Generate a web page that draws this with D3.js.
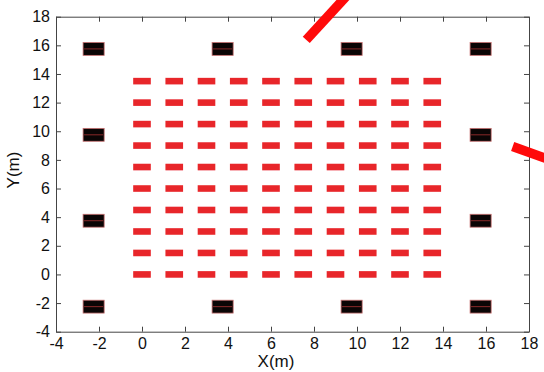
<!DOCTYPE html>
<html>
<head>
<meta charset="utf-8">
<script src="https://cdn.jsdelivr.net/npm/d3@7"></script>
<style>
  html, body { margin: 0; padding: 0; background: #fff; }
  svg { display: block; }
  .axis text { font-family: "Liberation Sans", Arial, sans-serif; font-size: 16px; fill: #111; }
  .axis path, .axis line { stroke: #444; }
  .label { font-family: "Liberation Sans", Arial, sans-serif; font-size: 17px; fill: #111; }
</style>
</head>
<body>
<div id="chart"></div>
<script>
// tick values (m)
const xTicks = [-4, -2, 0, 2, 4, 6, 8, 10, 12, 14, 16, 18];
const yTicks = [-4, -2, 0, 2, 4, 6, 8, 10, 12, 14, 16, 18];

// red grid of targets: column / row positions (m)
const gridX = [0, 1.5, 3, 4.5, 6, 7.5, 9, 10.5, 12, 13.5];
const gridY = [0, 1.5, 3, 4.5, 6, 7.5, 9, 10.5, 12, 13.5];

// black anchors round the area (m)
const anchorX = [-2.25, 3.75, 9.75, 15.75, -2.25, 15.75, -2.25, 15.75, -2.25, 3.75, 9.75, 15.75];
const anchorY = [15.75, 15.75, 15.75, 15.75, 9.75, 9.75, 3.75, 3.75, -2.25, -2.25, -2.25, -2.25];

// thick red segments (start/end, m)
const armX1 = [7.64, 17.24];
const armY1 = [16.38, 8.93];
const armX2 = [9.81, 19.38];
const armY2 = [19.93, 7.78];

const width = 544;
const height = 372;
const margin = {top: 16.7, right: 15, bottom: 40.3, left: 56};

const x = d3.scaleLinear().domain([-4, 18]).range([margin.left, width - margin.right]);
const y = d3.scaleLinear().domain([-4, 18]).range([height - margin.bottom, margin.top]);

const svg = d3.select('#chart')
  .append('svg')
    .attr('width', width)
    .attr('height', height);

const defs = svg.append('defs');
defs.append('filter')
    .attr('id', 'soft')
    .attr('x', '-20%').attr('y', '-50%')
    .attr('width', '140%').attr('height', '200%')
  .append('feGaussianBlur')
    .attr('stdDeviation', 0.6);

// axes, ticks pointing inward on all four sides
const tick = 5;
const fmt = d => String(d); // plain hyphen minus like the original
svg.append('g')
    .attr('class', 'axis')
    .attr('transform', `translate(0,${y(-4)})`)
    .call(d3.axisBottom(x).tickValues(xTicks).tickFormat(fmt).tickSizeInner(-tick).tickSizeOuter(0).tickPadding(6));
svg.append('g')
    .attr('class', 'axis')
    .attr('transform', `translate(${x(-4)},0)`)
    .call(d3.axisLeft(y).tickValues(yTicks).tickFormat(fmt).tickSizeInner(-tick).tickSizeOuter(0).tickPadding(6));
svg.append('g')
    .attr('class', 'axis')
    .attr('transform', `translate(0,${y(18)})`)
    .call(d3.axisTop(x).tickValues(xTicks).tickSizeInner(-tick).tickSizeOuter(0).tickFormat(''));
svg.append('g')
    .attr('class', 'axis')
    .attr('transform', `translate(${x(18)},0)`)
    .call(d3.axisRight(y).tickValues(yTicks).tickSizeInner(-tick).tickSizeOuter(0).tickFormat(''));

// red grid
const dashW = 0.82, dashH = 0.46;
const cells = gridY.flatMap(gy => gridX.map(gx => ({x: gx, y: gy})));
svg.append('g')
    .attr('filter', 'url(#soft)')
  .selectAll('rect')
  .data(cells)
  .enter()
    .append('rect')
      .attr('x', d => x(d.x - dashW / 2))
      .attr('y', d => y(d.y + dashH / 2))
      .attr('width', x(dashW) - x(0))
      .attr('height', y(0) - y(dashH))
      .style('fill', '#e8262a');

// black anchors
const anchorW = 0.98, anchorH = 0.9;
const anchors = anchorX.map((ax, i) => ({x: ax, y: anchorY[i]}));
const anchorG = svg.append('g')
  .selectAll('g')
  .data(anchors)
  .enter()
    .append('g');
anchorG.append('rect')
    .attr('x', d => x(d.x - anchorW / 2))
    .attr('y', d => y(d.y + anchorH / 2))
    .attr('width', x(anchorW) - x(0))
    .attr('height', y(0) - y(anchorH))
    .style('fill', '#0a0505')
    .style('stroke', '#c87070')
    .style('stroke-width', 0.8);
anchorG.append('line')
    .attr('x1', d => x(d.x - anchorW / 2) + 1)
    .attr('x2', d => x(d.x + anchorW / 2) - 1)
    .attr('y1', d => y(d.y))
    .attr('y2', d => y(d.y))
    .style('stroke', '#8a2a2a')
    .style('stroke-width', 1);

// thick red segments, drawn over the box
svg.append('g')
  .selectAll('line')
  .data(armX1.map((v, i) => i))
  .enter()
    .append('line')
      .attr('x1', i => x(armX1[i]))
      .attr('y1', i => y(armY1[i]))
      .attr('x2', i => x(armX2[i]))
      .attr('y2', i => y(armY2[i]))
      .style('stroke', '#ff0a0a')
      .style('stroke-width', 9.5)
      .style('stroke-linecap', 'butt');

// axis labels
svg.append('text')
    .attr('class', 'label')
    .attr('x', 276)
    .attr('y', height - 5)
    .attr('text-anchor', 'middle')
    .text('X(m)');
svg.append('text')
    .attr('class', 'label')
    .attr('transform', `translate(19,170) rotate(-90)`)
    .attr('text-anchor', 'middle')
    .text('Y(m)');
</script>
</body>
</html>
